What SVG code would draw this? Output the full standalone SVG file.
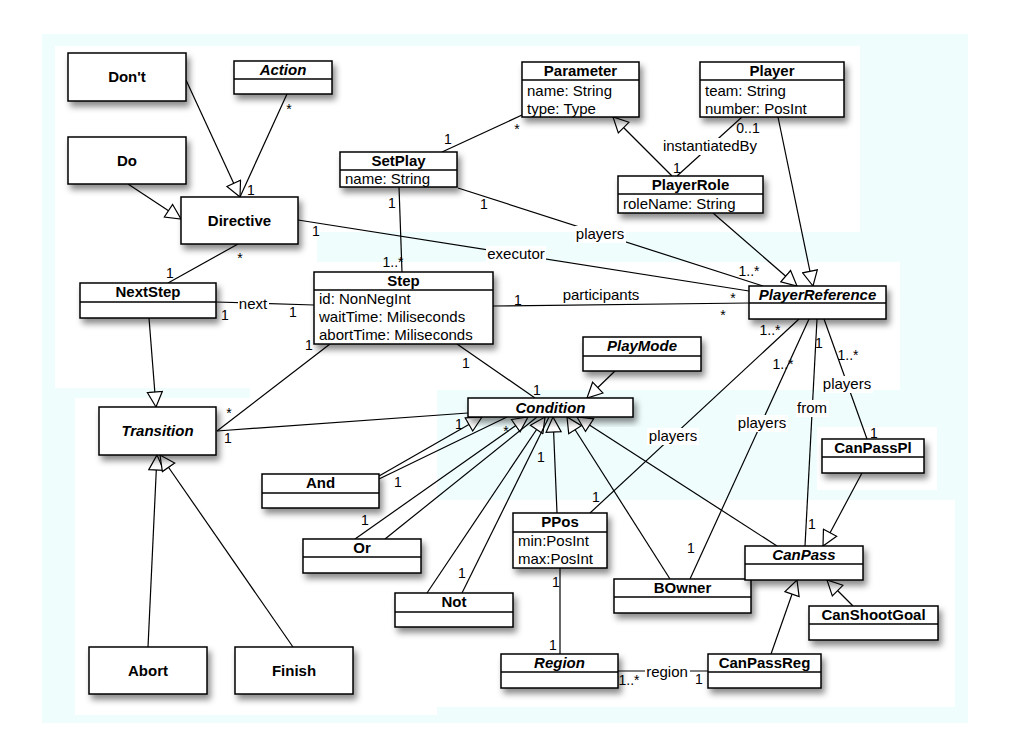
<svg xmlns="http://www.w3.org/2000/svg" width="1010" height="753" viewBox="0 0 1010 753">
<defs>
<filter id="sh" x="-20%" y="-20%" width="150%" height="170%">
<feDropShadow dx="3" dy="5" stdDeviation="3" flood-color="#000" flood-opacity="0.45"/>
</filter>
<marker id="tri" viewBox="0 0 17 17" refX="16" refY="8.5" markerWidth="17" markerHeight="17" markerUnits="userSpaceOnUse" orient="auto">
<path d="M1,1 L16,8.5 L1,16 Z" fill="#fff" stroke="#000" stroke-width="1.2"/>
</marker>
<style>
.box{fill:#fff;stroke:#000;stroke-width:1.5;filter:url(#sh)}
.div{stroke:#000;stroke-width:1.5}
.n{font-family:"Liberation Sans",Arial,sans-serif;font-size:15px;font-weight:bold;text-anchor:middle;fill:#000}
.i{font-style:italic}
.a{font-family:"Liberation Sans",Arial,sans-serif;font-size:15px;fill:#000}
.lbl{font-family:"Liberation Sans",Arial,sans-serif;font-size:15px;text-anchor:middle;fill:#000}
.m{font-family:"Liberation Sans",Arial,sans-serif;font-size:14px;text-anchor:middle;fill:#000}
.ln{stroke:#000;stroke-width:1.2;fill:none}
.gen{stroke:#000;stroke-width:1.2;fill:none;marker-end:url(#tri)}
.lb{fill:#fff}
</style>
</defs>
<rect x="0" y="0" width="1010" height="753" fill="#fff"/>
<g id="background">
<rect x="42" y="34" width="926" height="689" fill="#effdfd"/>
<rect x="55" y="46" width="805" height="186" fill="#fff"/>
<rect x="55" y="232" width="262" height="156" fill="#fff"/>
<rect x="300" y="262" width="600" height="128" fill="#fff"/>
<rect x="75" y="398" width="362" height="317" fill="#fff"/>
<rect x="250" y="330" width="187" height="70" fill="#fff"/>
<rect x="437" y="500" width="518" height="207" fill="#fff"/>
<rect x="817" y="427" width="120" height="63" fill="#fff"/>
</g>
<g id="connectors">
<line class="gen" x1="186" y1="80" x2="240" y2="197"/>
<line class="gen" x1="128" y1="184" x2="181" y2="219"/>
<line class="gen" x1="672" y1="176" x2="613" y2="117"/>
<line class="gen" x1="713" y1="213" x2="797" y2="286"/>
<line class="gen" x1="778" y1="117" x2="813" y2="286"/>
<line class="gen" x1="149" y1="318" x2="156" y2="407"/>
<line class="gen" x1="615" y1="371" x2="587" y2="398"/>
<line class="gen" x1="379" y1="476" x2="482" y2="417"/>
<line class="gen" x1="355" y1="539" x2="528" y2="417"/>
<line class="gen" x1="427" y1="593" x2="545" y2="417"/>
<line class="gen" x1="557" y1="513" x2="553" y2="417"/>
<line class="gen" x1="670" y1="579" x2="567" y2="417"/>
<line class="gen" x1="777" y1="546" x2="577" y2="417"/>
<line class="gen" x1="862" y1="473" x2="823" y2="546"/>
<line class="gen" x1="771" y1="654" x2="797" y2="580"/>
<line class="gen" x1="853" y1="606" x2="827" y2="580"/>
<line class="gen" x1="148" y1="647" x2="157" y2="455"/>
<line class="gen" x1="293" y1="647" x2="160" y2="455"/>
<line class="ln" x1="287" y1="94" x2="240" y2="197"/>
<line class="ln" x1="298" y1="220" x2="749" y2="291"/>
<line class="ln" x1="442" y1="152" x2="522" y2="115"/>
<line class="ln" x1="458" y1="188" x2="763" y2="286"/>
<line class="ln" x1="399" y1="187" x2="402" y2="272"/>
<line class="ln" x1="742" y1="117" x2="677" y2="176"/>
<line class="ln" x1="238" y1="244" x2="168" y2="283"/>
<line class="ln" x1="216" y1="302" x2="314" y2="305"/>
<line class="ln" x1="330" y1="344" x2="217" y2="431"/>
<line class="ln" x1="217" y1="431" x2="468" y2="413"/>
<line class="ln" x1="457" y1="344" x2="535" y2="398"/>
<line class="ln" x1="493" y1="306" x2="749" y2="303"/>
<line class="ln" x1="379" y1="479" x2="507" y2="417"/>
<line class="ln" x1="385" y1="539" x2="537" y2="417"/>
<line class="ln" x1="462" y1="593" x2="549" y2="417"/>
<line class="ln" x1="590" y1="513" x2="799" y2="319"/>
<line class="ln" x1="690" y1="579" x2="809" y2="319"/>
<line class="ln" x1="805" y1="546" x2="817" y2="319"/>
<line class="ln" x1="867" y1="439" x2="824" y2="319"/>
<line class="ln" x1="560" y1="568" x2="560" y2="654"/>
<line class="ln" x1="618" y1="671" x2="708" y2="671"/>
<g id="connector-labels">
<rect class="lb" x="662" y="138" width="96" height="17"/>
<text class="lbl" x="710" y="151">instantiatedBy</text>
<rect class="lb" x="575" y="226" width="51" height="17"/>
<text class="lbl" x="600" y="239">players</text>
<rect class="lb" x="486" y="246" width="60" height="17"/>
<text class="lbl" x="516" y="259">executor</text>
<rect class="lb" x="238" y="296" width="31" height="17"/>
<text class="lbl" x="253" y="309">next</text>
<rect class="lb" x="562" y="287" width="79" height="16"/>
<text class="lbl" x="601" y="300">participants</text>
<rect class="lb" x="647" y="428" width="52" height="17"/>
<text class="lbl" x="673" y="441">players</text>
<rect class="lb" x="736" y="415" width="52" height="17"/>
<text class="lbl" x="762" y="428">players</text>
<rect class="lb" x="796" y="400" width="33" height="17"/>
<text class="lbl" x="812" y="413">from</text>
<rect class="lb" x="821" y="376" width="52" height="17"/>
<text class="lbl" x="847" y="389">players</text>
<rect class="lb" x="645" y="664" width="45" height="17"/>
<text class="lbl" x="667" y="677">region</text>
<text class="m" x="289" y="114">*</text>
<text class="m" x="251" y="195">1</text>
<text class="m" x="316" y="236">1</text>
<text class="m" x="240" y="263">*</text>
<text class="m" x="170" y="278">1</text>
<text class="m" x="517" y="134">*</text>
<text class="m" x="448" y="144">1</text>
<text class="m" x="484" y="209">1</text>
<text class="m" x="392" y="208">1</text>
<text class="m" x="393" y="267">1..*</text>
<text class="m" x="677" y="173">1</text>
<text class="m" x="748" y="133">0..1</text>
<text class="m" x="749" y="276">1..*</text>
<text class="m" x="733" y="303">*</text>
<text class="m" x="723" y="320">*</text>
<text class="m" x="518" y="305">1</text>
<text class="m" x="225" y="320">1</text>
<text class="m" x="293" y="317">1</text>
<text class="m" x="309" y="350">1</text>
<text class="m" x="229" y="418">*</text>
<text class="m" x="228" y="443">1</text>
<text class="m" x="459" y="429">1</text>
<text class="m" x="466" y="368">1</text>
<text class="m" x="537" y="395">1</text>
<text class="m" x="506" y="436">*</text>
<text class="m" x="398" y="487">1</text>
<text class="m" x="365" y="525">1</text>
<text class="m" x="462" y="578">1</text>
<text class="m" x="541" y="462">1</text>
<text class="m" x="596" y="502">1</text>
<text class="m" x="556" y="587">1</text>
<text class="m" x="553" y="650">1</text>
<text class="m" x="629" y="685">1..*</text>
<text class="m" x="699" y="684">1</text>
<text class="m" x="691" y="553">1</text>
<text class="m" x="770" y="335">1..*</text>
<text class="m" x="783" y="369">1..*</text>
<text class="m" x="819" y="348">1</text>
<text class="m" x="848" y="360">1..*</text>
<text class="m" x="874" y="438">1</text>
<text class="m" x="812" y="529">1</text>
</g>
</g>
<g id="Dont"><rect class="box" x="68" y="53" width="118" height="48"/><text class="n" x="127" y="82">Don't</text></g>
<g id="Do"><rect class="box" x="68" y="137" width="118" height="47"/><text class="n" x="127" y="166">Do</text></g>
<g id="Action"><rect class="box" x="234" y="61" width="98" height="33"/><line class="div" x1="234" y1="79" x2="332" y2="79"/><text class="n i" x="283" y="75">Action</text></g>
<g id="Directive"><rect class="box" x="181" y="197" width="117" height="47"/><text class="n" x="239.5" y="226">Directive</text></g>
<g id="Parameter"><rect class="box" x="522" y="62" width="117" height="55"/><line class="div" x1="522" y1="80" x2="639" y2="80"/><text class="n" x="580.5" y="76">Parameter</text><text class="a" x="527" y="96">name: String</text><text class="a" x="527" y="114">type: Type</text></g>
<g id="Player"><rect class="box" x="700" y="62" width="144" height="55"/><line class="div" x1="700" y1="80" x2="844" y2="80"/><text class="n" x="772" y="76">Player</text><text class="a" x="705" y="96">team: String</text><text class="a" x="705" y="114">number: PosInt</text></g>
<g id="SetPlay"><rect class="box" x="340" y="152" width="117" height="35"/><line class="div" x1="340" y1="170" x2="457" y2="170"/><text class="n" x="398.5" y="166">SetPlay</text><text class="a" x="345" y="184">name: String</text></g>
<g id="PlayerRole"><rect class="box" x="618" y="176" width="145" height="37"/><line class="div" x1="618" y1="194" x2="763" y2="194"/><text class="n" x="690.5" y="190">PlayerRole</text><text class="a" x="623" y="209">roleName: String</text></g>
<g id="Step"><rect class="box" x="314" y="272" width="179" height="72"/><line class="div" x1="314" y1="290" x2="493" y2="290"/><text class="n" x="403.5" y="286">Step</text><text class="a" x="319" y="304">id: NonNegInt</text><text class="a" x="319" y="322">waitTime: Miliseconds</text><text class="a" x="319" y="340">abortTime: Miliseconds</text></g>
<g id="NextStep"><rect class="box" x="80" y="283" width="136" height="35"/><line class="div" x1="80" y1="302" x2="216" y2="302"/><text class="n" x="148" y="297">NextStep</text></g>
<g id="Transition"><rect class="box" x="99" y="407" width="117" height="48"/><text class="n i" x="157.5" y="436">Transition</text></g>
<g id="PlayerReference"><rect class="box" x="749" y="286" width="137" height="33"/><line class="div" x1="749" y1="303" x2="886" y2="303"/><text class="n i" x="817.5" y="300">PlayerReference</text></g>
<g id="PlayMode"><rect class="box" x="583" y="337" width="118" height="34"/><line class="div" x1="583" y1="356" x2="701" y2="356"/><text class="n i" x="642" y="351">PlayMode</text></g>
<g id="CanPassPl"><rect class="box" x="822" y="439" width="102" height="34"/><line class="div" x1="822" y1="457" x2="924" y2="457"/><text class="n" x="873" y="453">CanPassPl</text></g>
<g id="Condition"><rect class="box" x="468" y="398" width="165" height="19"/><text class="n i" x="550.5" y="413">Condition</text></g>
<g id="And"><rect class="box" x="262" y="474" width="117" height="34"/><line class="div" x1="262" y1="493" x2="379" y2="493"/><text class="n" x="320.5" y="488">And</text></g>
<g id="Or"><rect class="box" x="303" y="539" width="118" height="34"/><line class="div" x1="303" y1="557" x2="421" y2="557"/><text class="n" x="362" y="553">Or</text></g>
<g id="PPos"><rect class="box" x="513" y="513" width="94" height="55"/><line class="div" x1="513" y1="532" x2="607" y2="532"/><text class="n" x="560" y="527">PPos</text><text class="a" x="518" y="546">min:PosInt</text><text class="a" x="518" y="564">max:PosInt</text></g>
<g id="Not"><rect class="box" x="395" y="593" width="118" height="34"/><line class="div" x1="395" y1="612" x2="513" y2="612"/><text class="n" x="454" y="607">Not</text></g>
<g id="BOwner"><rect class="box" x="614" y="579" width="137" height="34"/><line class="div" x1="614" y1="597" x2="751" y2="597"/><text class="n" x="682.5" y="593">BOwner</text></g>
<g id="Region"><rect class="box" x="501" y="654" width="117" height="34"/><line class="div" x1="501" y1="672" x2="618" y2="672"/><text class="n i" x="559.5" y="668">Region</text></g>
<g id="CanPassReg"><rect class="box" x="708" y="654" width="113" height="34"/><line class="div" x1="708" y1="672" x2="821" y2="672"/><text class="n" x="764.5" y="668">CanPassReg</text></g>
<g id="CanPass"><rect class="box" x="745" y="546" width="118" height="34"/><line class="div" x1="745" y1="564" x2="863" y2="564"/><text class="n i" x="804" y="560">CanPass</text></g>
<g id="CanShootGoal"><rect class="box" x="809" y="606" width="129" height="34"/><line class="div" x1="809" y1="624" x2="938" y2="624"/><text class="n" x="873.5" y="620">CanShootGoal</text></g>
<g id="Abort"><rect class="box" x="89" y="647" width="118" height="47"/><text class="n" x="148" y="676">Abort</text></g>
<g id="Finish"><rect class="box" x="235" y="647" width="118" height="47"/><text class="n" x="294" y="676">Finish</text></g>
</svg>
